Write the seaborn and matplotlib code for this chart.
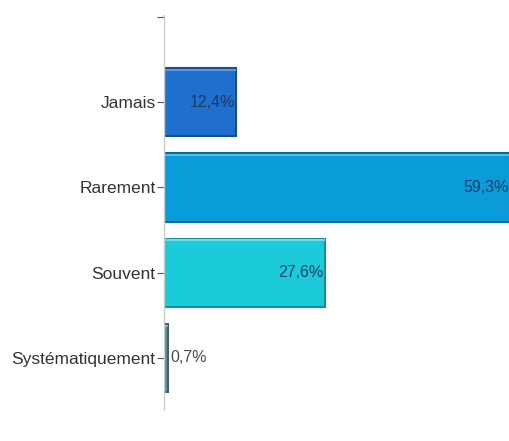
import seaborn as sns
import matplotlib.pyplot as plt
import pandas as pd

# Données
categories = ['Jamais', 'Rarement', 'Souvent', 'Systématiquement']
valeurs = [12.4, 59.3, 27.6, 0.7]
couleurs = ['#1f6fcc', '#0a9bd9', '#1ccbd9', '#5e8c98']
bords = ['#154d8f', '#066a96', '#12909b', '#3e6470']
reflets = ['#5b97dd', '#56bde6', '#6fdde6', '#8fb0b8']

df = pd.DataFrame({'categorie': categories, 'valeur': valeurs})

sns.set_style("white")
plt.rcParams['font.family'] = ['Liberation Sans', 'DejaVu Sans']
fig = plt.figure(figsize=(5.10, 4.41), dpi=100)
ax = fig.add_axes([0.3216, 0.0703, 0.6784, 0.8957])

sns.barplot(data=df, y='categorie', x='valeur', hue='categorie', palette=couleurs,
            order=categories, orient='h', width=0.8, legend=False, ax=ax,
            saturation=1)

# Bordures sombres + reflet clair en haut (effet relief)
for patch, bord, reflet in zip(ax.patches, bords, reflets):
    patch.set_edgecolor(bord)
    patch.set_linewidth(1.5)
    x0, y0 = patch.get_x(), patch.get_y()
    w = patch.get_width()
    ax.plot([x0, x0 + w], [y0 + 0.02, y0 + 0.02], color=reflet, lw=1.5,
            solid_capstyle='butt', zorder=patch.get_zorder() + 0.1)

# Étiquettes de valeurs
for i, v in enumerate(valeurs):
    txt = f"{v:.1f}%".replace('.', ',')
    if v > 5:
        ax.text(v - 0.25, i, txt, ha='right', va='center', fontsize=11.5, color='#1d3a66')
    else:
        ax.text(v + 0.4, i, txt, ha='left', va='center', fontsize=11.5, color='#4a4a4a')

ax.set_xlim(0, 59.3)
ax.set_ylim(3.61, -1.023)
ax.set_yticks([-1, 0, 1, 2, 3])
ax.set_yticklabels([''] + categories)
ax.set_xticks([])
ax.set_xlabel('')
ax.set_ylabel('')

ax.tick_params(axis='y', left=True, length=5, width=0.8, color='#555555',
               labelsize=12.5, labelcolor='#333333', pad=1)
for s in ['top', 'right', 'bottom']:
    ax.spines[s].set_visible(False)
ax.spines['left'].set_color('#cccccc')
ax.spines['left'].set_linewidth(1)

plt.savefig('out.png', dpi=100)
